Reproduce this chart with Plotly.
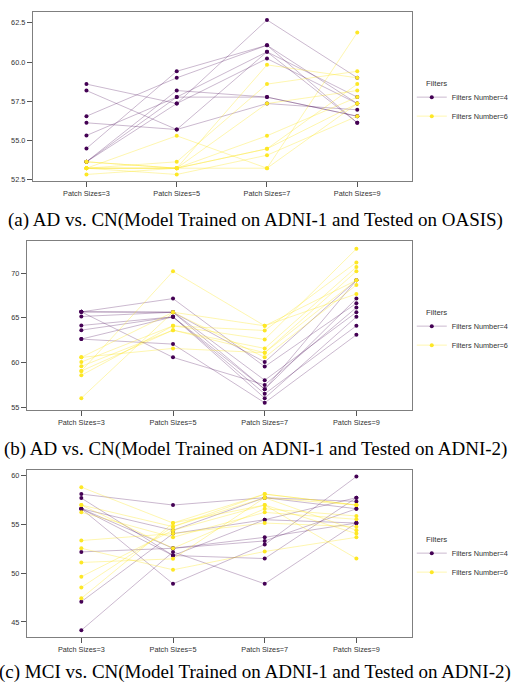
import plotly.graph_objects as go

categories = ["Patch Sizes=3", "Patch Sizes=5", "Patch Sizes=7", "Patch Sizes=9"]
series_names = ["Filters Number=4", "Filters Number=6"]
legend_title = "Filters"

captions = [
    "(a) AD vs. CN(Model Trained on ADNI-1 and Tested on OASIS)",
    "(b) AD vs. CN(Model Trained on ADNI-1 and Tested on ADNI-2)",
    "(c) MCI vs. CN(Model Trained on ADNI-1 and Tested on ADNI-2)",
]

# Panel (a): each row = one run across patch sizes 3,5,7,9
a_filters4 = [
    [58.59, 57.35, 62.69, 59.00],
    [58.18, 55.69, 57.35, 56.95],
    [56.54, 58.99, 61.07, 57.35],
    [56.12, 55.69, 60.65, 57.76],
    [55.31, 57.76, 57.76, 56.54],
    [54.48, 59.41, 61.07, 56.12],
    [53.63, 58.18, 57.76, 56.54],
    [53.63, 57.76, 60.65, 56.12],
    [53.63, 57.35, 60.22, 57.35],
]
a_filters6 = [
    [53.22, 55.29, 53.22, 57.35],
    [53.63, 53.22, 59.82, 58.99],
    [53.22, 53.63, 58.59, 59.41],
    [53.22, 53.22, 57.35, 58.18],
    [53.22, 53.22, 55.29, 57.76],
    [52.82, 53.22, 54.46, 58.59],
    [53.22, 52.82, 54.05, 56.54],
    [53.22, 53.22, 53.22, 61.88],
    [53.63, 53.22, 54.46, 57.35],
]

# Panel (b)
b_filters4 = [
    [65.67, 67.15, 59.56, 66.63],
    [65.67, 65.63, 60.07, 69.19],
    [65.67, 65.63, 58.04, 65.63],
    [65.67, 60.59, 57.52, 66.15],
    [65.15, 65.63, 57.04, 67.15],
    [64.15, 65.11, 56.52, 64.11],
    [63.63, 65.11, 56.04, 65.11],
    [62.63, 62.07, 55.52, 63.11],
    [62.63, 65.11, 57.04, 69.19],
]
b_filters6 = [
    [60.59, 61.59, 61.11, 69.19],
    [60.07, 64.11, 63.59, 71.19],
    [59.59, 63.63, 61.59, 70.67],
    [59.07, 70.19, 64.11, 67.67],
    [58.59, 64.11, 62.59, 72.70],
    [56.04, 65.63, 60.59, 68.67],
    [59.07, 63.63, 61.11, 70.19],
    [60.59, 65.63, 64.11, 69.19],
]

# Panel (c)
c_filters4 = [
    [58.07, 56.95, 57.70, 57.32],
    [57.66, 51.79, 55.45, 57.70],
    [56.57, 54.37, 57.70, 56.57],
    [56.57, 52.53, 53.28, 56.57],
    [56.57, 48.90, 52.91, 59.86],
    [56.57, 51.79, 51.48, 57.70],
    [52.16, 52.53, 53.65, 55.11],
    [47.07, 54.03, 55.45, 55.11],
    [44.15, 52.16, 48.90, 55.11],
]
c_filters6 = [
    [58.78, 55.11, 56.95, 51.48],
    [56.95, 54.74, 58.07, 56.95],
    [56.95, 52.53, 56.57, 55.83],
    [56.20, 53.65, 56.20, 55.49],
    [53.32, 54.03, 55.11, 54.74],
    [52.53, 50.33, 52.20, 53.65],
    [51.08, 51.45, 57.70, 54.37],
    [49.62, 54.37, 56.95, 54.03],
    [48.53, 54.74, 57.70, 56.95],
    [47.41, 55.11, 58.07, 56.95],
]

panels = [
    (a_filters4, a_filters6),
    (b_filters4, b_filters6),
    (c_filters4, c_filters6),
]

purple = "#440154"
yellow = "#fde725"
line_colors = ["rgba(68,1,84,0.28)", "rgba(253,231,37,0.36)"]
marker_colors = [purple, yellow]

# layout geometry (paper fractions)
y_domains = [[0.7339, 0.9825], [0.3981, 0.6455], [0.0643, 0.3104]]
x_domains = [[0.0642, 0.8074], [0.0525, 0.8074], [0.0525, 0.8074]]
y_ranges = [[52.39, 63.2], [54.73, 73.53], [43.44, 60.57]]
y_ticks = [[52.5, 55, 57.5, 60, 62.5], [55, 60, 65, 70], [45, 50, 55, 60]]
y_fmt = [".1f", "d", "d"]
legend_top_px = [83, 313, 541]
title_px = [84, 314, 542]
caption_px = [221, 451, 675]

fig = go.Figure()
for p, (s4, s6) in enumerate(panels):
    ax = "" if p == 0 else str(p + 1)
    leg = "legend" if p == 0 else "legend" + str(p + 1)
    for k, rows in enumerate([s4, s6]):
        xs, ys = [], []
        for r in rows:
            xs += list(range(len(categories))) + [None]
            ys += list(r) + [None]
        fig.add_trace(go.Scatter(
            x=xs, y=ys, mode="lines+markers", name=series_names[k],
            line=dict(color=line_colors[k], width=1),
            marker=dict(color=marker_colors[k], size=4, line=dict(width=0)),
            connectgaps=False,
            xaxis="x" + ax, yaxis="y" + ax, legend=leg,
        ))

axis_common = dict(showline=True, linecolor="#7f7f7f", linewidth=1, mirror=True,
                   showgrid=False, zeroline=False, ticks="outside", ticklen=5,
                   tickcolor="#555555",
                   tickfont=dict(family="Liberation Sans, Arial", size=7.3, color="#333333"))

layout = dict(
    width=514, height=684, margin=dict(l=0, r=0, t=0, b=0),
    plot_bgcolor="white", paper_bgcolor="white",
    font=dict(family="Liberation Sans, Arial", size=7, color="#333333"),
)
for p in range(3):
    ax = "" if p == 0 else str(p + 1)
    layout["xaxis" + ax] = dict(axis_common, domain=x_domains[p], anchor="y" + ax,
                                range=[-0.595, 3.604], tickvals=list(range(4)),
                                ticktext=categories)
    layout["yaxis" + ax] = dict(axis_common, domain=y_domains[p], anchor="x" + ax,
                                range=y_ranges[p], tickvals=y_ticks[p], tickformat=y_fmt[p])
    leg = "legend" if p == 0 else "legend" + str(p + 1)
    layout[leg] = dict(x=415 / 514, y=1 - legend_top_px[p] / 684, xanchor="left", yanchor="top",
                       font=dict(size=7.3, color="#333333"), bgcolor="rgba(0,0,0,0)",
                       itemwidth=30, tracegroupgap=0)

fig.update_layout(**layout)

for p in range(3):
    fig.add_annotation(text=legend_title, xref="paper", yref="paper", x=427 / 514,
                       y=1 - title_px[p] / 684, xanchor="left", yanchor="middle",
                       showarrow=False, font=dict(family="Liberation Sans, Arial", size=7.8,
                                                  color="#333333"))
    fig.add_annotation(text=captions[p], xref="paper", yref="paper", x=0.5,
                       y=1 - caption_px[p] / 684, xanchor="center", yanchor="middle",
                       showarrow=False,
                       font=dict(family="Liberation Serif, Times New Roman", size=19, color="black"))

fig.write_html("out.html", config={"displayModeBar": False},
               post_script="document.body.style.margin='0';")
